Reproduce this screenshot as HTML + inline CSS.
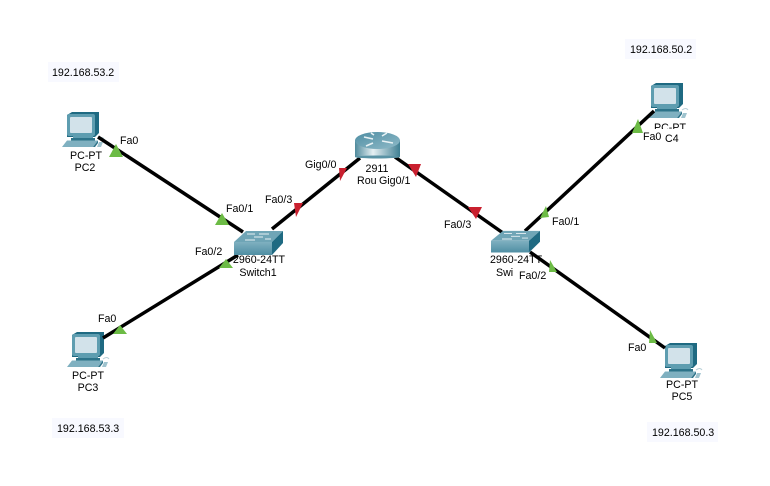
<!DOCTYPE html>
<html><head><meta charset="utf-8"><style>
html,body{margin:0;padding:0;background:#fff}
svg{display:block}
text{font-family:"Liberation Sans",Arial,sans-serif;font-size:10.67px;fill:#000}
.m{text-anchor:middle}
</style></head><body>
<svg width="770" height="486" viewBox="0 0 770 486" xmlns="http://www.w3.org/2000/svg">
<defs>
<linearGradient id="rt" x1="0" x2="1" y1="0" y2="0"><stop offset="0" stop-color="#4f8a9c"/><stop offset=".4" stop-color="#e6f0f3"/><stop offset="1" stop-color="#3f7f93"/></linearGradient>
<linearGradient id="rtop" x1="0" x2="1" y1="0" y2="1"><stop offset="0" stop-color="#4f8ea3"/><stop offset="1" stop-color="#8fbac8"/></linearGradient>
<linearGradient id="swf" x1="0" x2="0" y1="0" y2="1"><stop offset="0" stop-color="#7fb0c0"/><stop offset="1" stop-color="#4f8ea3"/></linearGradient>
<g id="pc">
<polygon points="0,3 5,0 32,0 32,21 28,25 0,25" fill="#1f6a82"/>
<rect x="0" y="2" width="28" height="22" rx="2" fill="#5e9db0"/>
<rect x="3" y="5" width="22" height="16" rx="1" fill="#d2e2ea"/>
<rect x="6" y="24" width="20" height="2" fill="#5e9db0"/>
<rect x="4" y="26" width="24" height="2.5" fill="#2d7389"/>
<polygon points="0,28.5 31,28.5 26,35 -5,35" fill="#7fb0c0"/>
<polygon points="26,35 31,28.5 31,31 28,35" fill="#2d7389"/>
<polygon points="32,30 36,30 34,35 30,35" fill="#9fc3ce"/>
<path d="M31 27q4-3 6 0" fill="none" stroke="#b9d0d8" stroke-width="1"/>
</g>
<g id="sw">
<polygon points="0,12 12,1 49,1 38,12" fill="#6fa5b6"/>
<rect x="0" y="12" width="38" height="13" fill="url(#swf)"/>
<polygon points="38,12 49,1 49,13 38,25" fill="#1f6a82"/>
<path d="M11 10h10M25 4h10M13 4h8M31 9h6M20 7h9" stroke="#e6f0f3" stroke-width="1"/>
</g>
</defs>

<rect x="48" y="62" width="71" height="20" fill="#f8f9ff"/>
<rect x="52" y="418" width="72" height="20" fill="#f8f9ff"/>
<rect x="625" y="39" width="71" height="20" fill="#f8f9ff"/>
<rect x="647" y="422" width="71" height="20" fill="#f8f9ff"/>
<text x="52" y="76">192.168.53.2</text>
<text x="57" y="432">192.168.53.3</text>
<text x="630" y="53">192.168.50.2</text>
<text x="652" y="436">192.168.50.3</text>

<text class="m" x="86" y="159">PC-PT</text>
<text class="m" x="85" y="171">PC2</text>
<text class="m" x="88" y="379">PC-PT</text>
<text class="m" x="88" y="391">PC3</text>
<text class="m" x="682" y="388">PC-PT</text>
<text class="m" x="682" y="400">PC5</text>
<text x="654" y="131">PC-PT</text>
<rect x="650" y="129" width="42" height="5" fill="#fff"/>
<text x="665" y="142">C4</text>
<text class="m" x="377" y="172">2911</text>
<text x="357" y="184">Rou</text>
<text class="m" x="259" y="263">2960-24TT</text>
<text class="m" x="258" y="276">Switch1</text>
<text x="490" y="263">2960-24TT</text>
<text x="496" y="276">Swi</text>

<use href="#pc" x="67" y="112"/>
<use href="#pc" x="72" y="332"/>
<use href="#pc" x="651" y="83"/>
<use href="#pc" x="665" y="343"/>

<g stroke="#000" stroke-width="3.5" fill="none">
<line x1="98" y1="137" x2="243" y2="232"/>
<line x1="103" y1="338" x2="238" y2="255"/>
<line x1="272" y1="229" x2="360" y2="158"/>
<line x1="395" y1="157" x2="503" y2="233"/>
<line x1="525" y1="231" x2="654" y2="111"/>
<line x1="530" y1="252" x2="665" y2="348"/>
</g>

<use href="#sw" x="234" y="230"/>
<use href="#sw" transform="translate(491,230) scale(1,0.9)"/>

<rect x="355" y="140" width="45" height="17" fill="url(#rt)"/>
<ellipse cx="377.500" cy="157" rx="22.500" ry="1.500" fill="#5a93a5"/>
<ellipse cx="377.500" cy="140.500" rx="22.500" ry="8.500" fill="url(#rtop)"/>
<path d="M364 137l9 2M382 136l5-3M382 141l11 2M373 143l-7 3M374 135l-3-2" stroke="#e8f2f5" stroke-width="1.6"/>

<g fill="#6cbb45">
<polygon points="116,144 109,157 123,157"/>
<polygon points="222,213 215,225 229,225"/>
<polygon points="226,259 219,268 233,268"/>
<polygon points="120,325 113,334 127,334"/>
<polygon points="638,119 632,133 643,133"/>
<polygon points="546,206 540,218 549,217"/>
<polygon points="550,260 549,272 557,272"/>
<polygon points="650,330 649,343 657,343"/>
</g>
<g fill="#c9202f">
<polygon points="339,168 347,168 340,181"/>
<polygon points="294,203 303,203 296,217"/>
<polygon points="408,164 421,164 416,177"/>
<polygon points="468,207 482,207 476,219"/>
</g>

<text x="120" y="144">Fa0</text>
<text x="226" y="212">Fa0/1</text>
<text x="195" y="255">Fa0/2</text>
<text x="98" y="322">Fa0</text>
<text x="265" y="203">Fa0/3</text>
<text x="305" y="168">Gig0/0</text>
<text x="379" y="184">Gig0/1</text>
<text x="444" y="228">Fa0/3</text>
<text x="552" y="225">Fa0/1</text>
<text x="519" y="279">Fa0/2</text>
<text x="643" y="140">Fa0</text>
<text x="628" y="351">Fa0</text>
</svg>
</body></html>
